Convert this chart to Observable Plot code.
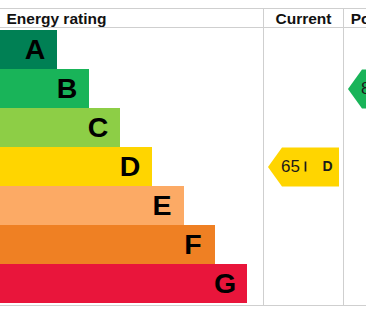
<!DOCTYPE html>
<html>
<head>
<meta charset="utf-8">
<script src="https://cdn.jsdelivr.net/npm/d3@7"></script>
<script src="https://cdn.jsdelivr.net/npm/@observablehq/plot@0.6"></script>
<style>
  html, body { margin: 0; padding: 0; background: #fff; overflow: hidden; }
  #chart { width: 366px; height: 311px; overflow: hidden; }
</style>
</head>
<body>
<div id="chart"></div>
<script>
// ---- data ----
const ratings = ["A", "B", "C", "D", "E", "F", "G"];
const barLengths = [57, 89, 120, 152, 184, 215, 247];
const barColors = ["#008054", "#19b459", "#8dce46", "#ffd500", "#fcaa65", "#ef8023", "#e9153b"];
const headerLabels = ["Energy rating", "Current", "Potential"];
const currentScore = 65;
const currentRating = "D";
const potentialScore = 85;
const potentialRating = "B";

// ---- layout ----
const W = 366, H = 311;
const columnEdges = [263, 343, 423];
const colCenters = [(columnEdges[0] + columnEdges[1]) / 2, (columnEdges[1] + columnEdges[2]) / 2];
const lineColor = "#cfcfcf";
const font = "Liberation Sans, Arial, Helvetica, sans-serif";

const bars = ratings.map((r, i) => ({rating: r, length: barLengths[i]}));
const arrows = [
  {x: colCenters[0], rating: currentRating, score: currentScore},
  {x: colCenters[1], rating: potentialRating, score: potentialScore}
];
const headers = [
  {label: headerLabels[1], x: colCenters[0]},
  {label: headerLabels[2], x: colCenters[1]}
];

function arrowSymbol(halfW, halfH, tipW) {
  return {
    draw(ctx) {
      ctx.moveTo(-halfW, 0);
      ctx.lineTo(-halfW + tipW, -halfH);
      ctx.lineTo(halfW, -halfH);
      ctx.lineTo(halfW, halfH);
      ctx.lineTo(-halfW + tipW, halfH);
      ctx.closePath();
    }
  };
}

const chart = Plot.plot({
  width: W,
  height: H,
  marginTop: 27,
  marginBottom: 6,
  marginLeft: 0,
  marginRight: 0,
  style: {fontFamily: font, background: "#fff"},
  x: {domain: [0, W], axis: null},
  y: {domain: ratings, axis: null, padding: 0},
  color: {domain: ratings, range: barColors},
  marks: [
    Plot.barX(bars, {x1: 0, x2: "length", y: "rating", fill: "rating"}),
    Plot.text(bars, {
      x: "length", y: "rating", text: "rating",
      textAnchor: "middle", dx: -22.5, fontSize: 28.5, fontWeight: "bold", fill: "#000"
    }),
    // header lines
    Plot.frame({anchor: "top", stroke: lineColor}),
    Plot.frame({anchor: "top", insetTop: -19, stroke: lineColor}),
    Plot.frame({anchor: "bottom", stroke: lineColor}),
    Plot.ruleX(columnEdges.slice(0, 2), {insetTop: -19, stroke: lineColor}),
    // header text
    Plot.text([headerLabels[0]], {
      text: d => d, frameAnchor: "top-left", dx: 6, dy: -8,
      textAnchor: "start", lineAnchor: "middle",
      fontSize: 15.5, fontWeight: "bold", fill: "#111"
    }),
    Plot.text(headers, {
      x: "x", text: "label", frameAnchor: "top", dy: -8,
      textAnchor: "middle", lineAnchor: "middle",
      fontSize: 15.5, fontWeight: "bold", fill: "#111"
    }),
    // arrows
    Plot.dot(arrows, {
      x: "x", y: "rating", fill: "rating", stroke: null,
      symbol: arrowSymbol(35.5, 19.5, 14), r: 10
    }),
    Plot.text(arrows, {
      x: "x", y: "rating", text: d => String(d.score),
      textAnchor: "start", dx: -22.5, fontSize: 17, fill: "#1a1a1a"
    }),
    Plot.tickX(arrows, {
      x: "x", y: "rating", dx: 2, insetTop: 14.5, insetBottom: 14.5,
      stroke: "#1a1a1a", strokeWidth: 1.7
    }),
    Plot.text(arrows, {
      x: "x", y: "rating", text: "rating",
      textAnchor: "middle", dx: 24, fontSize: 14, fontWeight: "bold", fill: "#1a1a1a"
    })
  ]
});

document.getElementById("chart").appendChild(chart);
</script>
</body>
</html>
